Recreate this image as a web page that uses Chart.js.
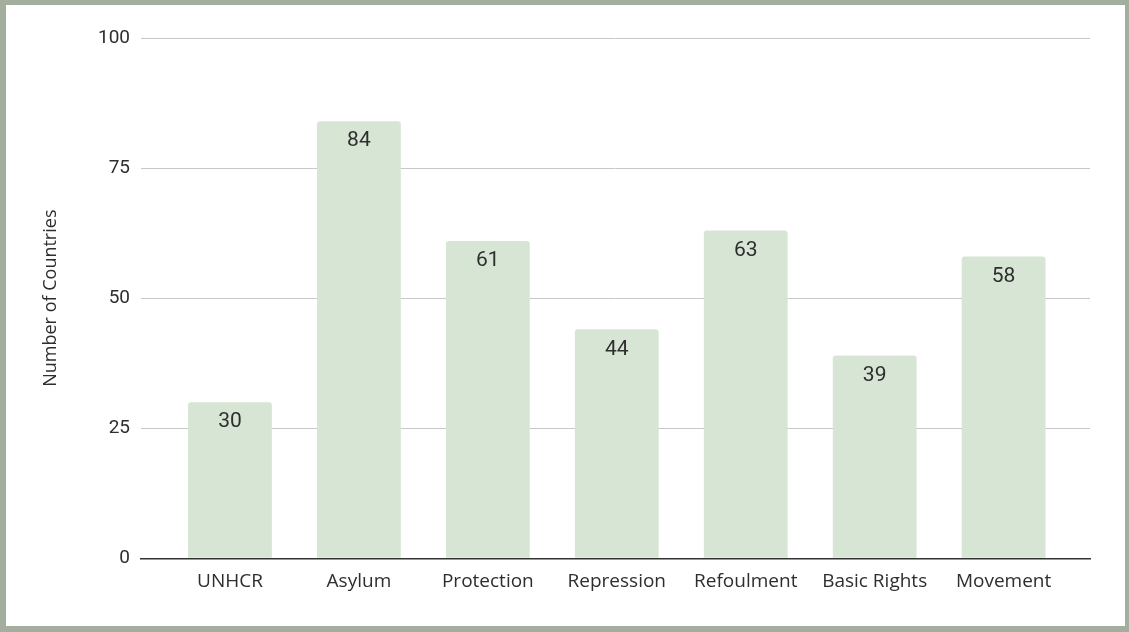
<!DOCTYPE html>
<html>
<head>
<meta charset="utf-8">
<script src="https://cdn.jsdelivr.net/npm/chart.js@4"></script>
<style>
  html, body { margin: 0; padding: 0; background: #ffffff; }
  .frame {
    box-sizing: border-box;
    width: 1129px;
    height: 632px;
    border: solid #a3ae9e;
    border-width: 5px 4px 6px 6px;
    background: #ffffff;
  }
  canvas { display: block; }
</style>
</head>
<body>
<div class="frame">
  <canvas id="myChart" width="1119" height="621"></canvas>
</div>
<script>
//categories along the bottom
const categories = ["UNHCR", "Asylum", "Protection", "Repression", "Refoulment", "Basic Rights", "Movement"];
//number of countries for each category
const countryCounts = [30, 84, 61, 44, 63, 39, 58];
//values shown on the left axis
const yTicks = [0, 25, 50, 75, 100];

const barColor = "#d7e6d4";
const textColor = "#2e2e2e";

//bars sit on a numeric axis so the outer margins can be wider than half a slot
const points = countryCounts.map((value, i) => ({ x: i, y: value }));

//writes each bar's value just under its top edge
const valueLabels = {
    id: "valueLabels",
    afterDatasetsDraw(chart) {
        const ctx = chart.ctx;
        const meta = chart.getDatasetMeta(0);
        ctx.save();
        ctx.font = "21px Roboto";
        ctx.fillStyle = textColor;
        ctx.textAlign = "center";
        ctx.textBaseline = "middle";
        meta.data.forEach((bar, i) => {
            ctx.fillText(String(countryCounts[i]), bar.x, bar.y + 20);
        });
        ctx.restore();
    }
};

const ctx = document.getElementById("myChart");

let myChart = new Chart(ctx, {
    type: "bar",
    data: {
        datasets: [{
            label: "Number of Countries",
            data: points,
            backgroundColor: barColor,
            borderWidth: 0,
            borderRadius: 3,
            barPercentage: 0.65,
            categoryPercentage: 1
        }]
    },
    options: {
        responsive: false,
        animation: false,
        layout: {
            padding: { top: 33, right: 35, bottom: 0, left: 30 }
        },
        plugins: {
            legend: { display: false },
            tooltip: { enabled: false }
        },
        scales: {
            x: {
                type: "linear",
                offset: false,
                min: -0.69,
                max: 6.67,
                grid: { display: false, drawTicks: false },
                border: { display: true, color: "#333333", width: 1.5, z: 1 },
                ticks: {
                    stepSize: 1,
                    includeBounds: false,
                    autoSkip: false,
                    maxRotation: 0,
                    padding: 12,
                    color: textColor,
                    font: { family: "'Open Sans'", size: 19 },
                    callback: value => categories[value] ?? ""
                },
                afterFit: scale => { scale.height = 67.7; }
            },
            y: {
                min: 0,
                max: 100,
                grid: {
                    drawTicks: false,
                    color: context => context.tick.value === 0 ? "rgba(0,0,0,0)" : "#c8c8c8"
                },
                border: { display: false },
                afterBuildTicks: scale => {
                    scale.ticks = yTicks.map(v => ({ value: v }));
                },
                ticks: {
                    padding: 11,
                    color: textColor,
                    font: { family: "Roboto", size: 19 }
                },
                title: {
                    display: true,
                    text: "Number of Countries",
                    color: textColor,
                    font: { family: "'Open Sans'", size: 18 },
                    padding: { top: 4, bottom: 4 }
                },
                afterFit: scale => { scale.width = 105; }
            }
        }
    },
    plugins: [valueLabels]
});
</script>
</body>
</html>
